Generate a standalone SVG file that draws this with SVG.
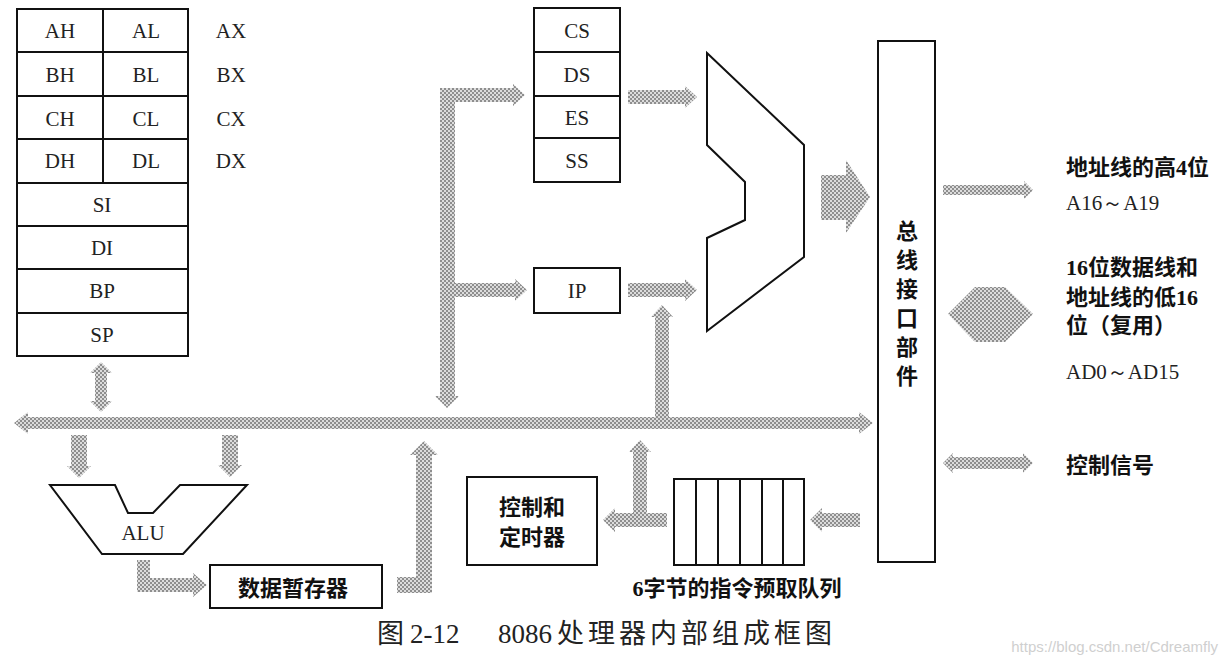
<svg xmlns="http://www.w3.org/2000/svg" width="1228" height="664" viewBox="0 0 1228 664">
<defs>
<pattern id="dots" patternUnits="userSpaceOnUse" width="4" height="4">
<rect width="4" height="4" fill="#dcdcdc"/>
<rect x="0" y="0" width="2" height="2" fill="#8e8e8e"/>
<rect x="2" y="2" width="2" height="2" fill="#8e8e8e"/>
</pattern>
</defs>
<style>
.box{fill:#fff;stroke:#111;stroke-width:2}
.ln{fill:none;stroke:#111;stroke-width:2}
.arr{fill:url(#dots);stroke:none}
.reg{font-family:"Liberation Serif",serif;font-size:21px;fill:#222;text-anchor:middle}
.lat{font-family:"Liberation Serif",serif;font-size:21px;fill:#222}
.cn{font-family:"Liberation Serif","Noto Sans CJK SC",sans-serif;font-size:22px;font-weight:bold;fill:#111}
.cap{font-family:"Liberation Serif","Noto Sans CJK SC",serif;font-size:27px;fill:#222}
</style>
<rect width="1228" height="664" fill="#fff"/>

<g id="connectors">
<polygon class="arr" points="14,423 28,412 28,417 859,417 859,412 873,423 859,434 859,429 28,429 28,434"/>
<polygon class="arr" points="101,362 112,373 107,373 107,401 112,401 101,412 90,401 95,401 95,373 90,373"/>
<polygon class="arr" points="71,435 87,435 87,466 91,466 79,478 67,466 71,466"/>
<polygon class="arr" points="222,435 238,435 238,465 242,465 230,477 218,465 222,465"/>
<polygon class="arr" points="137,560 150,560 150,578 193,578 193,573 207,585 193,597 193,592 137,592"/>
<polygon class="arr" points="397,577 416,577 416,455 410,455 424,441 438,455 432,455 432,593 397,593"/>
<polygon class="arr" points="440,88 455,88 455,396 459,396 447,408 435,396 440,396"/>
<polygon class="arr" points="440,88 513,88 513,84 525,95 513,106 513,102 440,102"/>
<polygon class="arr" points="455,283 515,283 515,279 527,290 515,301 515,297 455,297"/>
<polygon class="arr" points="628,90 685,90 685,86 697,97 685,108 685,104 628,104"/>
<polygon class="arr" points="628,283 685,283 685,279 697,290 685,301 685,297 628,297"/>
<polygon class="arr" points="655,417 655,317 651,317 662,305 673,317 669,317 669,417"/>
<polygon class="arr" points="821,175 846,175 846,160 870,197 846,233 846,220 821,220"/>
<polygon class="arr" points="943,185 1024,185 1024,181 1033,190 1024,199 1024,195 943,195"/>
<polygon class="arr" points="948,314 975,287 1005,287 1033,314 1005,342 975,342"/>
<polygon class="arr" points="943,463 953,453 953,457 1023,457 1023,453 1033,463 1023,473 1023,469 953,469 953,473"/>
<polygon class="arr" points="860,513 822,513 822,508 810,520 822,532 822,527 860,527"/>
<polygon class="arr" points="667,513 615,513 615,508 603,520 615,532 615,527 667,527"/>
<polygon class="arr" points="633,527 633,452 629,452 640,440 651,452 647,452 647,527"/>
</g>

<g id="general-registers">
<rect class="box" x="17" y="9" width="171" height="347"/>
<path class="ln" d="M17,52H188M17,96H188M17,139H188M17,183H188M17,226H188M17,269H188M17,313H188M103,9V183"/>
<text class="reg" x="60" y="38">AH</text><text class="reg" x="146" y="38">AL</text>
<text class="reg" x="60" y="82">BH</text><text class="reg" x="146" y="82">BL</text>
<text class="reg" x="60" y="126">CH</text><text class="reg" x="146" y="126">CL</text>
<text class="reg" x="60" y="168">DH</text><text class="reg" x="146" y="168">DL</text>
<text class="reg" x="102" y="212">SI</text>
<text class="reg" x="102" y="255">DI</text>
<text class="reg" x="102" y="298">BP</text>
<text class="reg" x="102" y="342">SP</text>
<text class="reg" x="231" y="38">AX</text>
<text class="reg" x="231" y="82">BX</text>
<text class="reg" x="231" y="126">CX</text>
<text class="reg" x="231" y="168">DX</text>
</g>

<g id="segment-registers">
<rect class="box" x="534" y="8" width="86" height="174"/>
<path class="ln" d="M534,52H620M534,96H620M534,138H620"/>
<text class="reg" x="577" y="38">CS</text>
<text class="reg" x="577" y="82">DS</text>
<text class="reg" x="577" y="125">ES</text>
<text class="reg" x="577" y="168">SS</text>
</g>

<g id="ip">
<rect class="box" x="534" y="268" width="86" height="45"/>
<text class="reg" x="577" y="298">IP</text>
</g>

<g id="adder">
<polygon class="ln" points="707,53 804,145 804,257 707,331 707,238 745,220 745,182 707,145"/>
</g>

<g id="bus-interface">
<rect class="box" x="878" y="41" width="57" height="521"/>
<text class="cn" text-anchor="middle" font-size="20" x="907"><tspan x="907" y="239">总</tspan><tspan x="907" y="268">线</tspan><tspan x="907" y="297">接</tspan><tspan x="907" y="326">口</tspan><tspan x="907" y="355">部</tspan><tspan x="907" y="384">件</tspan></text>
</g>

<g id="alu">
<polygon class="ln" points="50,485 115,485 128,513 153,513 180,485 247,485 183,554 102,554"/>
<text class="reg" x="143" y="540">ALU</text>
</g>

<g id="temp-register">
<rect class="box" x="210" y="565" width="172" height="43"/>
<text class="cn" x="293" y="596" text-anchor="middle">数据暂存器</text>
</g>

<g id="control-timing">
<rect class="box" x="467" y="477" width="130" height="88"/>
<text class="cn" x="532" y="515" text-anchor="middle">控制和</text>
<text class="cn" x="532" y="545" text-anchor="middle">定时器</text>
</g>

<g id="queue">
<rect class="box" x="674" y="479" width="130" height="86"/>
<path class="ln" d="M696,479V565M718,479V565M740,479V565M762,479V565M783,479V565"/>
<text class="cn" x="737" y="596" text-anchor="middle">6字节的指令预取队列</text>
</g>

<g id="labels-right">
<text class="cn" x="1066" y="175">地址线的高4位</text>
<text class="lat" x="1066" y="210">A16～A19</text>
<text class="cn" x="1066" y="275">16位数据线和</text>
<text class="cn" x="1066" y="305">地址线的低16</text>
<text class="cn" x="1066" y="333">位（复用）</text>
<text class="lat" x="1066" y="379">AD0～AD15</text>
<text class="cn" x="1066" y="473">控制信号</text>
</g>

<g id="caption">
<text class="cap" y="643"><tspan x="377">图</tspan><tspan x="410">2-12</tspan><tspan x="498">8086</tspan></text>
<text class="cap" x="557" y="643" textLength="275" lengthAdjust="spacing">处理器内部组成框图</text>
</g>
<text x="1218" y="652" text-anchor="end" font-family="Liberation Sans, sans-serif" font-size="15" fill="#cfcfcf">https://blog.csdn.net/Cdreamfly</text>
</svg>
